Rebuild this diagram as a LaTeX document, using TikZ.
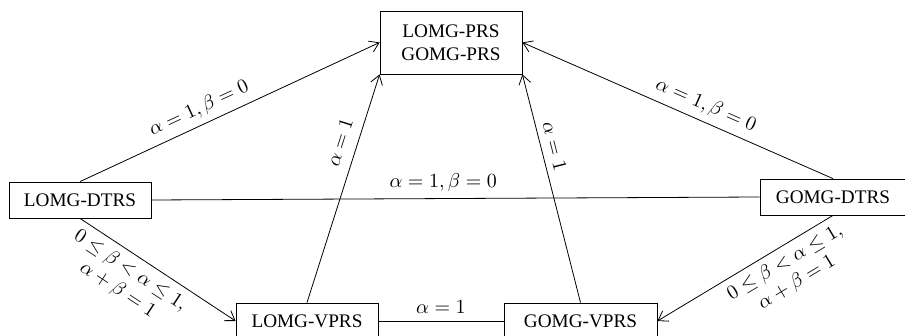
\documentclass[tikz,border=0pt]{standalone}
\usepackage{fontspec}
\setmainfont{Liberation Serif}
\usetikzlibrary{arrows.meta}

\begin{document}
\begin{tikzpicture}[x=0.5pt,y=-0.5pt,
  box/.style={draw, minimum height=18pt, inner sep=2pt, align=center,
    font=\fontsize{9.6}{11.5}\selectfont},
  lbl/.style={font=\fontsize{9.6}{11.5}\selectfont, sloped, align=center},
  >={Straight Barb[length=4.5pt,width=6pt]}]

  \useasboundingbox (0,0) rectangle (905,336);

  \node[box, minimum width=71pt, minimum height=31.5pt] (prs) at (451,42.5) {LOMG-PRS\\GOMG-PRS};

  \node[box, minimum width=71pt] (l_dtrs) at (80,200) {LOMG-DTRS};
  \node[box, minimum width=73pt] (g_dtrs) at (833,197) {GOMG-DTRS};

  \node[box, minimum width=71pt] (l_vprs) at (307,321) {LOMG-VPRS};
  \node[box, minimum width=76.5pt] (g_vprs) at (580.5,321) {GOMG-VPRS};

  \draw[->] (l_dtrs.north) -- node[lbl, above, pos=0.42] {$\alpha=1,\beta=0$} (prs.west);
  \draw[->] (g_dtrs.north) -- node[lbl, above, pos=0.43] {$\alpha=1,\beta=0$} (prs.east);
  \draw (l_dtrs.east) -- node[lbl, above, pos=0.48] {$\alpha=1, \beta=0$} (g_dtrs.west);

  \draw[->] (l_vprs.north) -- node[lbl, above=2pt, pos=0.68] {$\alpha=1$} (prs.south west);
  \draw[->] (g_vprs.north) -- node[lbl, above, pos=0.67] {$\alpha=1$} (prs.south east);

  \draw[->] (l_dtrs.south) -- node[lbl, below, pos=0.38]
    {$0\le\beta<\alpha\le1,$\\$\alpha+\beta=1$} (l_vprs.west);
  \draw[->] (g_dtrs.south) -- node[lbl, below, pos=0.32]
    {$0\le\beta<\alpha\le1,$\\$\alpha+\beta=1$} (g_vprs.east);

  \draw (l_vprs.east) -- node[lbl, above] {$\alpha=1$} (g_vprs.west);

\end{tikzpicture}
\end{document}
